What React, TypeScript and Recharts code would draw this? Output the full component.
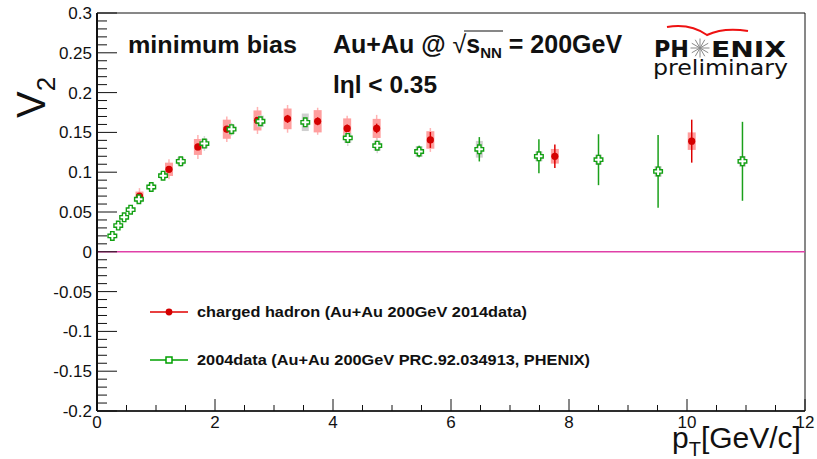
import { ComposedChart, Scatter, XAxis, YAxis, ErrorBar, ReferenceLine, ReferenceArea, Legend } from "recharts";

// charged hadron, Au+Au 200GeV 2014 data
const chargedPt = [0.72, 1.22, 1.71, 2.2, 2.72, 3.23, 3.74, 4.24, 4.74, 5.65, 7.76, 10.08];
const chargedV2 = [0.07, 0.1036, 0.1317, 0.154, 0.165, 0.167, 0.164, 0.155, 0.155, 0.1405, 0.12, 0.139];
const chargedSys = [0.0057, 0.0084, 0.01, 0.012, 0.0126, 0.013, 0.014, 0.0126, 0.012, 0.011, 0.0092, 0.011];
const chargedWhisker = [0.01, 0.0126, 0.015, 0.016, 0.017, 0.0174, 0.017, 0.016, 0.017, 0.015, 0, 0];
const chargedStat = [0.003, 0.003, 0.004, 0.004, 0.005, 0.005, 0.005, 0.005, 0.006, 0.01, 0.0147, 0.027];

// 2004 data, PRC.92.034913
const refPt = [0.26, 0.36, 0.46, 0.57, 0.71, 0.92, 1.12, 1.42, 1.82, 2.28, 2.77, 3.53, 4.25, 4.75, 5.46, 6.48, 7.49, 8.5, 9.51, 10.94];
const refV2 = [0.0199, 0.0329, 0.0433, 0.0529, 0.066, 0.0814, 0.0956, 0.1137, 0.136, 0.154, 0.164, 0.1627, 0.143, 0.1333, 0.126, 0.1288, 0.12, 0.1157, 0.101, 0.1137];
const refSys = [0.003, 0.003, 0.003, 0.003, 0.004, 0.004, 0.004, 0.005, 0.006, 0.006, 0.007, 0.011, 0.0063, 0.0063, 0.0067, 0.0105, 0.0063, 0.0063, 0.0067, 0.0067];
const refWhisker = [0.004, 0.004, 0.004, 0.004, 0.006, 0.006, 0.006, 0.0067, 0.0094, 0.008, 0.008, 0.008, 0.01, 0.0094, 0.0073, 0, 0, 0, 0, 0];
const refStat = [0.002, 0.002, 0.002, 0.002, 0.002, 0.002, 0.002, 0.002, 0.003, 0.003, 0.003, 0.003, 0.004, 0.004, 0.0073, 0.0153, 0.0214, 0.032, 0.0457, 0.0496];

const xMajor = [0, 2, 4, 6, 8, 10, 12];
const xMinor = [0, 0.5, 1, 1.5, 2, 2.5, 3, 3.5, 4, 4.5, 5, 5.5, 6, 6.5, 7, 7.5, 8, 8.5, 9, 9.5, 10, 10.5, 11, 11.5, 12];
const yMajor = [-0.2, -0.15, -0.1, -0.05, 0, 0.05, 0.1, 0.15, 0.2, 0.25, 0.3];
const yMinor = Array.from({ length: 51 }, (_, i) => +(-0.2 + i * 0.01).toFixed(2));

const chargedName = "charged hadron (Au+Au 200GeV 2014data)";
const refName = "2004data (Au+Au 200GeV PRC.92.034913, PHENIX)";

const chargedData = chargedPt.map((pt, i) => ({
  pt,
  v2: chargedV2[i],
  sys: chargedSys[i],
  whisker: chargedWhisker[i],
  stat: chargedStat[i],
}));
const refData = refPt.map((pt, i) => ({
  pt,
  v2: refV2[i],
  sys: refSys[i],
  whisker: refWhisker[i],
  stat: refStat[i],
}));

const FONT = "'Liberation Sans', Arial, sans-serif";
const isMajor = (list: number[], v: number) => list.some((m) => Math.abs(m - v) < 1e-6);

function XTick(props: any) {
  const { x, y, payload } = props;
  const major = isMajor(xMajor, payload.value);
  return (
    <g>
      <line x1={x} x2={x} y1={y} y2={y - (major ? 12 : 6)} stroke="#111" strokeWidth={1} />
      {major && (
        <text x={x} y={y + 17} textAnchor="middle" fontFamily={FONT} fontSize={17} fill="#111">
          {payload.value}
        </text>
      )}
    </g>
  );
}

function YTick(props: any) {
  const { x, y, payload } = props;
  const major = isMajor(yMajor, payload.value);
  return (
    <g>
      <line x1={x} x2={x + (major ? 20 : 10)} y1={y} y2={y} stroke="#111" strokeWidth={1} />
      {major && (
        <text x={x - 5} y={y + 6} textAnchor="end" fontFamily={FONT} fontSize={17} fill="#111">
          {payload.value}
        </text>
      )}
    </g>
  );
}

function RedDot(props: any) {
  return <circle cx={props.cx} cy={props.cy} r={3.6} fill="#d40000" />;
}

function OpenCross(props: any) {
  const { cx, cy } = props;
  const a = 1.7;
  const L = 4.3;
  const d = `M${cx - a},${cy - L} h${2 * a} v${L - a} h${L - a} v${2 * a} h${-(L - a)} v${L - a} h${-2 * a} v${-(L - a)} h${-(L - a)} v${-2 * a} h${L - a} Z`;
  return <path d={d} fill="#ffffff" stroke="#12a012" strokeWidth={1.4} />;
}

function LegendBox(props: any) {
  const payload = props.payload || [];
  return (
    <svg width={480} height={80} style={{ overflow: "visible" }}>
      {payload.map((entry: any) => {
        const red = entry.value === chargedName;
        const y = red ? 12 : 60;
        return (
          <g key={entry.value}>
            <line x1={10} x2={48} y1={y} y2={y} stroke={red ? "#e00000" : "#00a000"} strokeWidth={1.3} />
            {red ? (
              <circle cx={29} cy={y} r={3.4} fill="#d40000" />
            ) : (
              <rect x={26} y={y - 3} width={6} height={6} fill="#fff" stroke="#00a000" strokeWidth={1.5} />
            )}
            <text
              x={57}
              y={y + 5}
              fontFamily={FONT}
              fontWeight="bold"
              fontSize={15}
              fill="#111"
              textLength={red ? 330 : 393}
              lengthAdjust="spacingAndGlyphs"
            >
              {entry.value}
            </text>
          </g>
        );
      })}
    </svg>
  );
}

function Overlay() {
  const spokes = Array.from({ length: 12 }, (_, i) => (i * Math.PI) / 6);
  return (
    <svg width={817} height={459} style={{ position: "absolute", left: 0, top: 0, pointerEvents: "none" }}>
      <text x={128} y={53} fontFamily={FONT} fontWeight="bold" fontSize={23} fill="#111" textLength={169} lengthAdjust="spacingAndGlyphs">
        minimum bias
      </text>
      <text x={333} y={53} fontFamily={FONT} fontWeight="bold" fontSize={25} fill="#111">
        <tspan>Au+Au @ </tspan>
        <tspan fontWeight="normal">√</tspan>
        <tspan>s</tspan>
        <tspan fontSize={15} dy={5}>NN</tspan>
        <tspan dy={-5}> = 200GeV</tspan>
      </text>
      <line x1={464} x2={503} y1={31} y2={31} stroke="#111" strokeWidth={1.2} />
      <text x={333} y={93} fontFamily={FONT} fontWeight="bold" fontSize={23} fill="#111" textLength={104} lengthAdjust="spacingAndGlyphs">
        lηl &lt; 0.35
      </text>

      <text transform="translate(45,118) rotate(-90)" fontFamily={FONT} fontSize={40} fill="#111">
        <tspan>V</tspan>
        <tspan fontSize={26} dy={10}>2</tspan>
      </text>

      <text x={672} y={448} fontFamily={FONT} fontSize={30} fill="#111">
        <tspan>p</tspan>
        <tspan fontSize={20} dy={8}>T</tspan>
        <tspan dy={-8}>[GeV/c]</tspan>
      </text>

      {/* PHENIX logo */}
      <path d="M667,27 Q690,23 707,35 Q724,27 748,31" fill="none" stroke="#ee1111" strokeWidth={2} />
      <text x={654} y={57} fontFamily="'DejaVu Sans', sans-serif" fontWeight="bold" fontSize={23} fill="#111" textLength={35} lengthAdjust="spacingAndGlyphs">
        PH
      </text>
      {spokes.map((t, i) => (
        <line key={i} x1={700} y1={48} x2={700 + 9.5 * Math.cos(t)} y2={48 + 9.5 * Math.sin(t)} stroke="#888" strokeWidth={1} />
      ))}
      <text x={711} y={57} fontFamily="'DejaVu Sans', sans-serif" fontWeight="bold" fontSize={22} fill="#111" textLength={75} lengthAdjust="spacingAndGlyphs">
        ENIX
      </text>
      <text x={653} y={75} fontFamily="'DejaVu Sans', sans-serif" fontSize={22} fill="#111" textLength={135} lengthAdjust="spacingAndGlyphs">
        preliminary
      </text>
    </svg>
  );
}

export default function App() {
  return (
    <div style={{ position: "absolute", left: 0, top: 0, width: 817, height: 459, background: "#fff" }}>
      <ComposedChart width={817} height={459} margin={{ top: 13, right: 12, bottom: 0, left: 0 }}>
        <XAxis
          dataKey="pt"
          type="number"
          domain={[0, 12]}
          allowDataOverflow
          ticks={xMinor}
          interval={0}
          tick={<XTick />}
          tickLine={false}
          tickSize={0}
          tickMargin={0}
          height={48}
          axisLine={{ stroke: "#111", strokeWidth: 1.5 }}
        />
        <YAxis
          type="number"
          domain={[-0.2, 0.3]}
          allowDataOverflow
          ticks={yMinor}
          interval={0}
          tick={<YTick />}
          tickLine={false}
          tickSize={0}
          tickMargin={0}
          width={97}
          axisLine={{ stroke: "#111", strokeWidth: 2 }}
        />
        <ReferenceArea x1={0} x2={12} y1={-0.2} y2={0.3} fill="none" stroke="#111" strokeWidth={1} />
        <ReferenceLine y={0} stroke="#e040a8" strokeWidth={1.5} />
        <Scatter name={chargedName} data={chargedData} dataKey="v2" fill="#d40000" shape={<RedDot />} isAnimationActive={false}>
          <ErrorBar dataKey="whisker" direction="y" width={0} stroke="#ffb3b3" strokeWidth={1.5} isAnimationActive={false} />
          <ErrorBar dataKey="sys" direction="y" width={0} stroke="#ff9e9e" strokeWidth={8} isAnimationActive={false} />
          <ErrorBar dataKey="stat" direction="y" width={0} stroke="#dd0000" strokeWidth={1.5} isAnimationActive={false} />
        </Scatter>
        <Scatter name={refName} data={refData} dataKey="v2" fill="#00a000" shape={<OpenCross />} isAnimationActive={false}>
          <ErrorBar dataKey="whisker" direction="y" width={0} stroke="#d6d6d6" strokeWidth={1.5} isAnimationActive={false} />
          <ErrorBar dataKey="sys" direction="y" width={0} stroke="#cfcfcf" strokeWidth={7} isAnimationActive={false} />
          <ErrorBar dataKey="stat" direction="y" width={0} stroke="#1aa01a" strokeWidth={1.5} isAnimationActive={false} />
        </Scatter>
        <Legend
          layout="horizontal"
          verticalAlign="middle"
          align="center"
          content={<LegendBox />}
          wrapperStyle={{ position: "absolute", left: 140, top: 300, width: 480, height: 80 }}
        />
      </ComposedChart>
      <Overlay />
    </div>
  );
}
